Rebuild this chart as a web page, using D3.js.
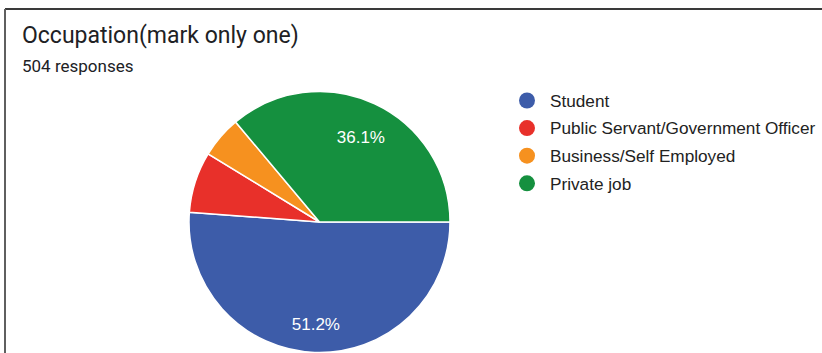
<!DOCTYPE html>
<html>
<head>
<meta charset="utf-8">
<script src="https://cdn.jsdelivr.net/npm/d3@7"></script>
<style>
  html, body { margin: 0; padding: 0; background: #fff; }
  svg { display: block; }
</style>
</head>
<body>
<svg id="chart" width="822" height="353"></svg>
<script>
// Survey answers for "Occupation"
const categories = ["Student", "Public Servant/Government Officer", "Business/Self Employed", "Private job"];
const counts = [258, 38, 26, 182];
const colors = ["#3d5ca9", "#e8302a", "#f6911f", "#15903f"];
const titleText = "Occupation(mark only one)";
const subtitleText = "504 responses";

const svg = d3.select("#chart");
const W = 822, H = 353;

// card frame (top and left edges visible)
svg.append("line").attr("x1", 5).attr("y1", 9).attr("x2", W).attr("y2", 9)
  .attr("stroke", "#3a3a3a").attr("stroke-width", 2);
svg.append("line").attr("x1", 5).attr("y1", 9).attr("x2", 5).attr("y2", H)
  .attr("stroke", "#5f5f5f").attr("stroke-width", 2);

svg.append("text").attr("x", 22).attr("y", 43)
  .attr("font-family", "Roboto, 'Liberation Sans', Arial, sans-serif")
  .attr("font-size", 23).attr("fill", "#202124").text(titleText);
svg.append("text").attr("x", 22).attr("y", 72)
  .attr("font-family", "Roboto, 'Liberation Sans', Arial, sans-serif")
  .attr("font-size", 17).attr("fill", "#202124").text(subtitleText);

// pie
const cx = 319.5, cy = 222, r = 130.5;
const total = d3.sum(counts);
const pie = d3.pie().sort(null)
  .startAngle(Math.PI / 2).endAngle(Math.PI / 2 + 2 * Math.PI);
const arcs = pie(counts);
const arc = d3.arc().innerRadius(0).outerRadius(r);
const labelArc = d3.arc().innerRadius(r * 0.75).outerRadius(r * 0.75);

const g = svg.append("g").attr("transform", `translate(${cx},${cy})`);
g.selectAll("path").data(arcs).join("path")
  .attr("d", arc)
  .attr("fill", (d, i) => colors[i])
  .attr("stroke", "#fff").attr("stroke-width", 1.5);

const pct = d3.format(".1f");
g.selectAll("text.lbl").data(arcs.filter(d => d.value / total >= 0.1)).join("text")
  .attr("class", "lbl")
  .attr("transform", d => { const c = labelArc.centroid(d); return `translate(${c[0]},${c[1] + 4})`; })
  .attr("text-anchor", "middle").attr("dy", "0.36em")
  .attr("font-family", "'Liberation Sans', Arial, sans-serif")
  .attr("font-size", 17).attr("fill", "#fff")
  .text(d => pct(d.value / total * 100) + "%");

// legend
const legend = svg.append("g").attr("transform", "translate(527,100.5)");
const rows = legend.selectAll("g").data(categories).join("g")
  .attr("transform", (d, i) => `translate(0,${i * 27.6})`);
rows.append("circle").attr("r", 8).attr("fill", (d, i) => colors[i]);
rows.append("text").attr("x", 23).attr("dy", "0.36em")
  .attr("font-family", "'Liberation Sans', Arial, sans-serif")
  .attr("font-size", 17.2).attr("fill", "#222").text(d => d);
</script>
</body>
</html>
